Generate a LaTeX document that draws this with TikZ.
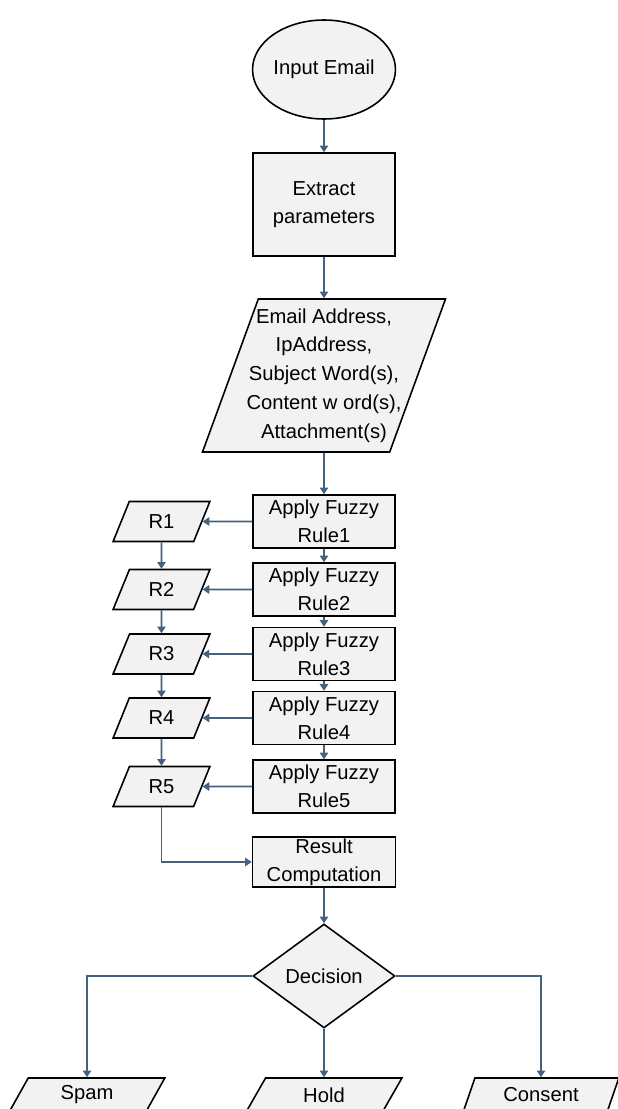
\documentclass[tikz,border=0pt]{standalone}
\usepackage{fontspec}
\setmainfont{Liberation Sans}
\usepackage{xcolor}
\definecolor{flowline}{RGB}{68,98,128}
\definecolor{boxfill}{RGB}{242,242,242}
\usepackage{tikz}
\usetikzlibrary{arrows.meta, shapes.geometric}

\begin{document}
\begin{tikzpicture}[x=0.02cm, y=-0.02cm,
  every node/.style={font=\fontsize{11.5pt}{16pt}\selectfont, align=center},
  shapebox/.style={draw=black, line width=0.9pt, fill=boxfill},
  procbox/.style={shapebox, rectangle, inner sep=0pt, minimum width=2.84cm},
  iobox/.style={shapebox, trapezium, trapezium left angle=65, trapezium right angle=115,
                trapezium stretches=true, inner sep=0pt},
  flow/.style={flowline, line width=1pt, -{Triangle[width=4.8pt,length=3.8pt]}}]

\useasboundingbox (0,0) rectangle (618,1109);

% === Input and extraction ===
\node[shapebox, ellipse, minimum width=2.84cm, minimum height=1.98cm, inner sep=0pt]
     (input) at (324,69.5) {Input Email};
\node[procbox, minimum height=2.06cm] (extract) at (324,204.5) {Extract\\parameters};
\node[iobox, trapezium left angle=67, trapezium right angle=113, inner sep=2pt,
      minimum width=4.86cm, minimum height=3.06cm,
      label={[font=\fontsize{11.5pt}{16.4pt}\selectfont]center:Email Address,\\IpAddress,\\Subject Word(s),\\Content w ord(s),\\Attachment(s)}]
     (params) at (324,375.5) {};

\draw[flow] (input) -- (extract);
\draw[flow] (extract) -- (params);

% === Fuzzy rules and their results ===
\foreach \i/\y in {1/521.5, 2/589.5, 3/654, 4/718, 5/786.5} {
    \node[procbox, minimum height=1.06cm] (rule\i) at (324,\y) {Apply Fuzzy\\Rule\i};
    \node[iobox, minimum width=1.94cm, minimum height=0.8cm] (r\i) at (161.5,\y) {R\i};
    \draw[flow] (rule\i) -- (r\i);
}

\draw[flow] (params) -- (rule1);
\foreach \i/\j in {1/2, 2/3, 3/4, 4/5} {
    \draw[flow] (rule\i) -- (rule\j);
    \draw[flow] (r\i) -- (r\j);
}

% === Result and decision ===
\node[procbox, minimum width=2.86cm, minimum height=1cm] (result) at (324,862) {Result\\Computation};
\node[shapebox, diamond, minimum width=2.84cm, minimum height=2.08cm, inner sep=0pt]
     (decision) at (324,976) {Decision};

\draw[flow] (r5) |- (result);
\draw[flow] (result) -- (decision);

% === Outcomes ===
\node[iobox, minimum width=3.12cm, minimum height=0.68cm] (spam) at (87,1095) {Spam};
\node[iobox, minimum width=3.12cm, minimum height=0.68cm] (hold) at (324,1095) {Hold};
\node[iobox, minimum width=3.12cm, minimum height=0.68cm] (consent) at (541,1095) {Consent};

\draw[flow] (decision.west) -| (spam);
\draw[flow] (decision) -- (hold);
\draw[flow] (decision.east) -| (consent);

\end{tikzpicture}
\end{document}
